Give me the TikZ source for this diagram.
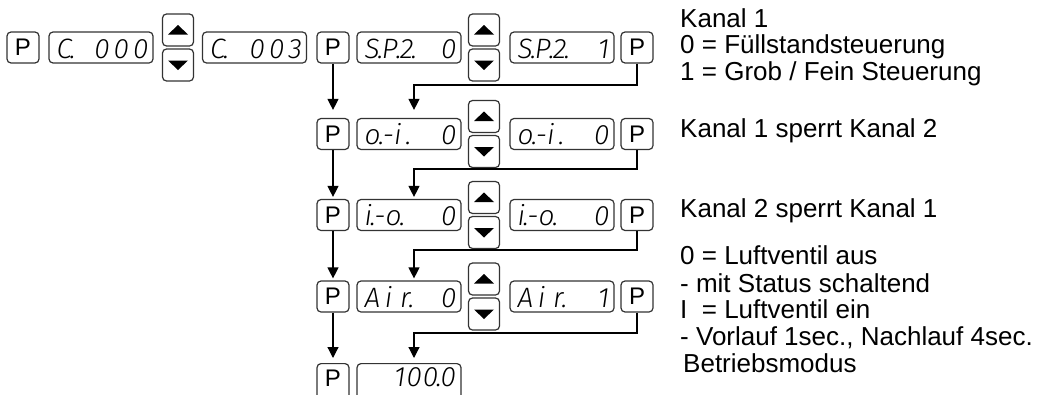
\documentclass[tikz,border=0pt]{standalone}
\usepackage{fontspec}
\setmainfont{Liberation Sans}
\newfontfamily\segfont{Fira Sans Light Italic}
\usetikzlibrary{arrows.meta}

% decimal point sitting in the corner of a digit cell
\newcommand\sd{\kern-2pt.\kern-1.5pt}
% gap between two digit cells
\newcommand\cg{\kern4pt}

\tikzset{
  keybox/.style={draw=black!80, line width=1.2pt, rounded corners=4pt, inner sep=0pt},
  pkey/.style={keybox, minimum width=32pt, minimum height=31pt, font=\fontsize{24}{24}\selectfont},
  disp/.style={keybox, minimum width=104pt, minimum height=31pt},
  ukey/.style={keybox, minimum width=31pt, minimum height=32pt,
    path picture={\fill[sharp corners] (path picture bounding box.center) ++(-10pt,-4.5pt)
      -- ++(20pt,0pt) -- ++(-10pt,9.5pt) -- cycle;}},
  dkey/.style={keybox, minimum width=31pt, minimum height=32pt,
    path picture={\fill[sharp corners] (path picture bounding box.center) ++(-10pt,4.5pt)
      -- ++(20pt,0pt) -- ++(-10pt,-9.5pt) -- cycle;}},
  segtxt/.style={font=\segfont\fontsize{28}{28}\selectfont, inner sep=0pt},
  flow/.style={line width=1.2pt, -{Triangle[width=11pt,length=11pt]}},
  note/.style={font=\fontsize{26}{27}\selectfont, inner sep=0pt, anchor=base west},
}

% display window: name, x, y, left part, right part
\newcommand\mkreadout[5]{%
  \node[disp] (#1) at (#2,#3) {};
  \node[segtxt, anchor=base west] (#1l) at ([shift={(8pt,-10.5pt)}]#1.west) {#4};
  \node[segtxt, anchor=base east] (#1r) at ([shift={(-5pt,-10.5pt)}]#1.east) {#5};
}

\begin{document}
\begin{tikzpicture}[x=1pt, y=-1pt]
\useasboundingbox (0,0) rectangle (1042,394);

% row 1: channel selection and mode of channel 1
\node[pkey] (p0) at (23,47.5) {P};
\mkreadout{c0}{101}{47.5}{C\sd}{0\cg0\cg0}
\node[ukey] (u0) at (178,30) {};
\node[dkey] (v0) at (178,65) {};
\mkreadout{c1}{254.5}{47.5}{C\sd}{0\cg0\cg3}
\node[pkey] (p1) at (333,47.5) {P};
\mkreadout{a1}{409}{47.5}{S\sd P\sd 2\sd}{0}
\node[ukey] (u1) at (484,30) {};
\node[dkey] (v1) at (484,65) {};
\mkreadout{b1}{562}{47.5}{S\sd P\sd 2\sd}{1}
\node[pkey] (q1) at (637,47.5) {P};

% row 2
\node[pkey] (p2) at (333,134) {P};
\mkreadout{a2}{409}{134}{o\sd-i\kern4pt.}{0}
\node[ukey] (u2) at (484,116.5) {};
\node[dkey] (v2) at (484,151.5) {};
\mkreadout{b2}{562}{134}{o\sd-i\kern4pt.}{0}
\node[pkey] (q2) at (637,134) {P};

% row 3
\node[pkey] (p3) at (333,215) {P};
\mkreadout{a3}{409}{215}{i\sd-o\sd}{0}
\node[ukey] (u3) at (484,197.5) {};
\node[dkey] (v3) at (484,232.5) {};
\mkreadout{b3}{562}{215}{i\sd-o\sd}{0}
\node[pkey] (q3) at (637,215) {P};

% row 4
\node[pkey] (p4) at (333,296.5) {P};
\mkreadout{a4}{409}{296.5}{A\,i\ r\sd}{0}
\node[ukey] (u4) at (484,279) {};
\node[dkey] (v4) at (484,314) {};
\mkreadout{b4}{562}{296.5}{A\,i\ r\sd}{1}
\node[pkey] (q4) at (637,296.5) {P};

% row 5: operating mode value (window runs off the lower edge)
\node[pkey, anchor=north, minimum height=36pt] (p5) at (333,363) {};
\node[font=\fontsize{24}{24}\selectfont, inner sep=0pt] (p5t) at (333,378.5) {P};
\node[disp, anchor=north, minimum height=36pt] (a5) at (409,363) {};
\node[segtxt, anchor=base east] (a5r) at (456,386) {1\kern1pt0\kern1pt0\sd0};

% connectors
\coordinate (e1) at (414,85);
\coordinate (e2) at (414,169);
\coordinate (e3) at (414,250);
\coordinate (e4) at (414,333);
\draw[flow, shorten >=8pt] (p1) -- (p2);
\draw[flow, shorten >=8pt] (q1) |- (e1) -- (e1 |- a2.north);
\draw[flow, shorten >=2pt] (p2) -- (p3);
\draw[flow, shorten >=2pt] (q2) |- (e2) -- (e2 |- a3.north);
\draw[flow, shorten >=2pt] (p3) -- (p4);
\draw[flow, shorten >=2pt] (q3) |- (e3) -- (e3 |- a4.north);
\draw[flow, shorten >=5pt] (p4) -- (p5);
\draw[flow, shorten >=5pt] (q4) |- (e4) -- (e4 |- a5.north);

% explanations
\node[note] (t1) at (680,27) {Kanal 1};
\node[note] (t2) at (680,53) {0 = Füllstandsteuerung};
\node[note] (t3) at (680,80) {1 = Grob / Fein Steuerung};
\node[note] (t4) at (680,137) {Kanal 1 sperrt Kanal 2};
\node[note] (t5) at (680,217) {Kanal 2 sperrt Kanal 1};
\node[note] (t6) at (680,264) {0 = Luftventil aus};
\node[note] (t7) at (680,292) {- mit Status schaltend};
\node[note] (t8) at (680,318) {I\ \ = Luftventil ein};
\node[note] (t9) at (680,345) {- Vorlauf 1sec., Nachlauf 4sec.};
\node[note] (t10) at (683,372) {Betriebsmodus};
\end{tikzpicture}
\end{document}
